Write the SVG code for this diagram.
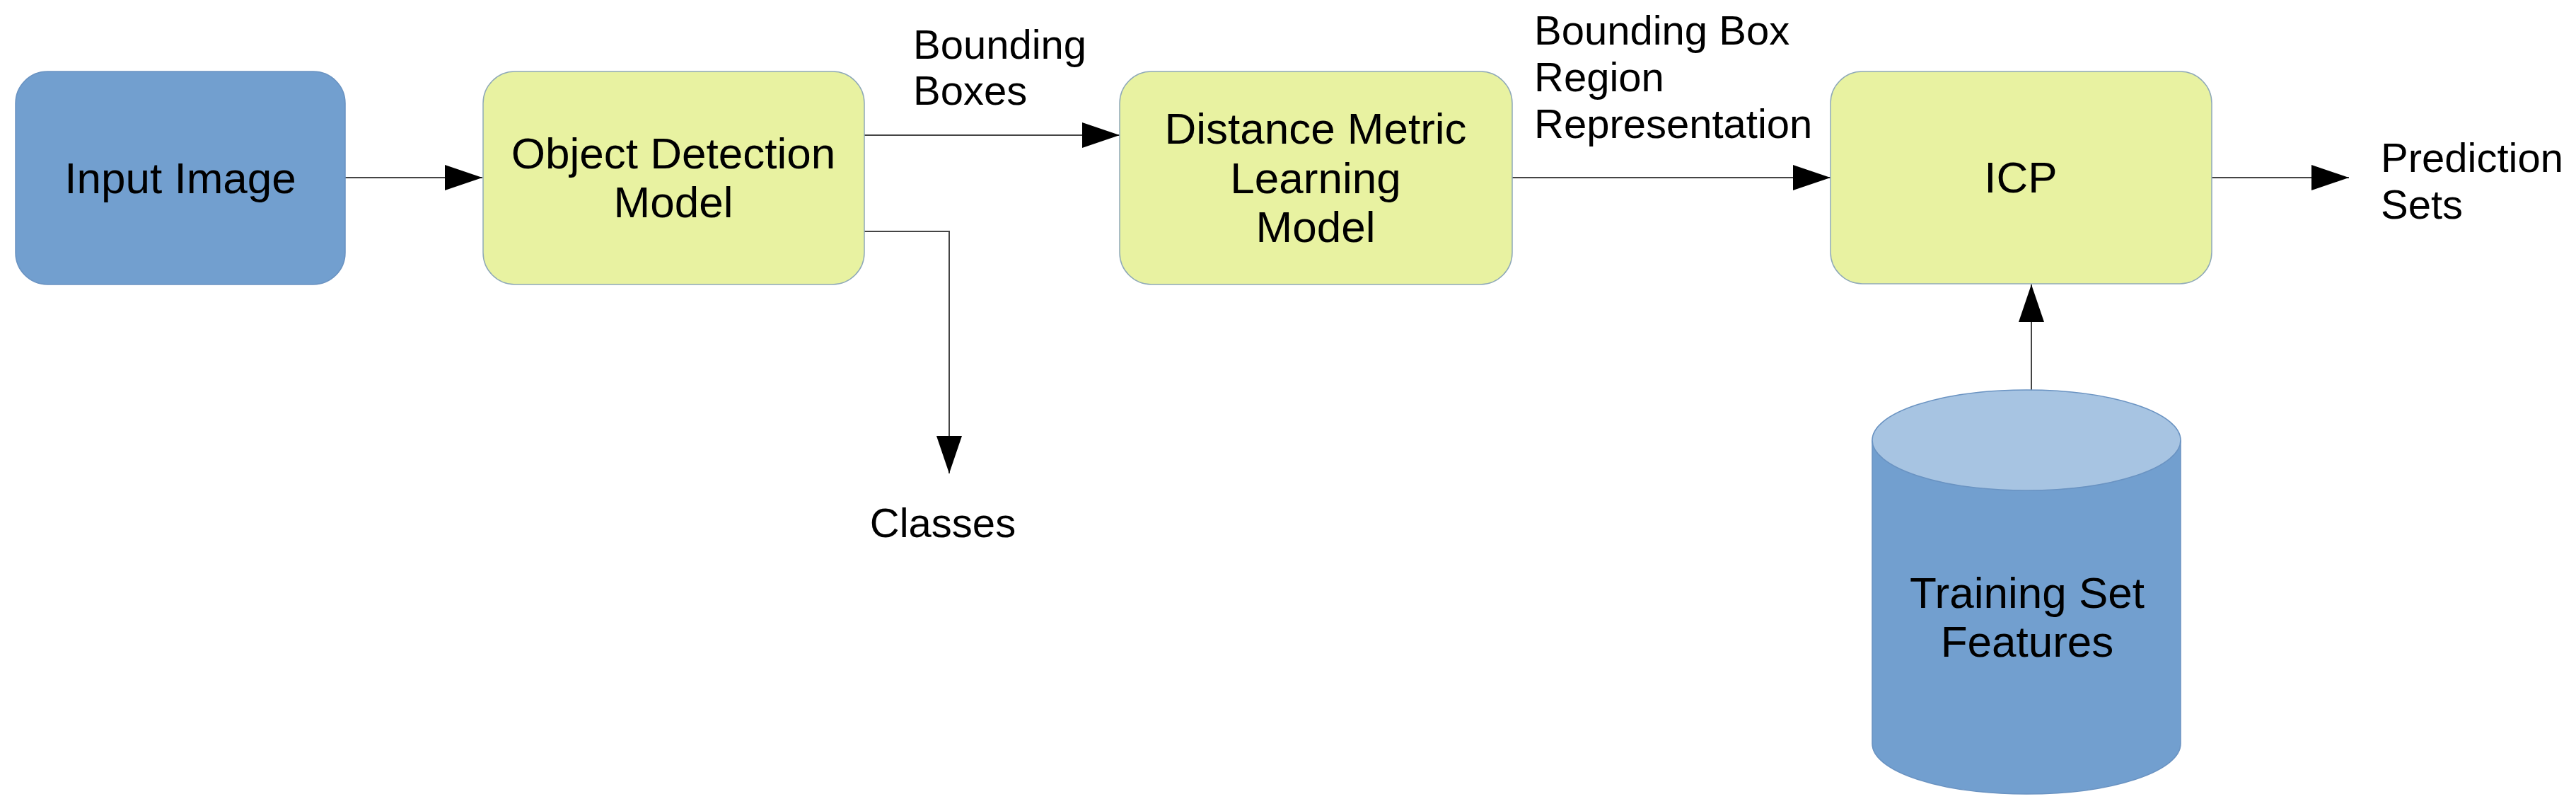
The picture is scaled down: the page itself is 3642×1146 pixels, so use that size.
<svg xmlns="http://www.w3.org/2000/svg" width="3642" height="1146" viewBox="0 0 3642 1146">
<style>
text{font-family:"Liberation Sans",Arial,sans-serif;fill:#000}
.big{font-size:62px;text-anchor:middle}
.lbl{font-size:58px}
.blue{fill:#729fcf;stroke:#6a93c2;stroke-width:1.5}
.yel{fill:#e8f2a1;stroke:#8fa9b8;stroke-width:1.5}
.con{fill:none;stroke:#444;stroke-width:2}
</style>
<defs>
<marker id="ah" markerUnits="userSpaceOnUse" markerWidth="54" markerHeight="36" refX="53" refY="18" orient="auto">
<path d="M0,0 L53,18 L0,36 z" fill="#000"/>
</marker>
</defs>
<rect width="3642" height="1146" fill="#fff"/>
<g id="connectors">
<path class="con" d="M488,251 H682" marker-end="url(#ah)"/>
<path class="con" d="M1222,191 H1583" marker-end="url(#ah)"/>
<path class="con" d="M1222,327 H1342 V669" marker-end="url(#ah)"/>
<path class="con" d="M2138,251 H2588" marker-end="url(#ah)"/>
<path class="con" d="M3127,251 H3321" marker-end="url(#ah)"/>
<path class="con" d="M2872,552 V402" marker-end="url(#ah)"/>
</g>
<g id="input-image">
<rect class="blue" x="22" y="101" width="466" height="301" rx="45" ry="45"/>
<text class="big" x="255" y="273">Input Image</text>
</g>
<g id="object-detection">
<rect class="yel" x="683" y="101" width="539" height="301" rx="45" ry="45"/>
<text class="big" x="952" y="238">Object Detection</text>
<text class="big" x="952" y="307">Model</text>
</g>
<g id="distance-metric">
<rect class="yel" x="1583" y="101" width="555" height="301" rx="45" ry="45"/>
<text class="big" x="1860" y="203">Distance Metric</text>
<text class="big" x="1860" y="273">Learning</text>
<text class="big" x="1860" y="342">Model</text>
</g>
<g id="icp">
<rect class="yel" x="2588" y="101" width="539" height="300" rx="45" ry="45"/>
<text class="big" x="2857" y="272">ICP</text>
</g>
<g id="training-set">
<path class="blue" d="M2647,622 V1051 A218,71 0 0 0 3083,1051 V622 Z"/>
<ellipse cx="2865" cy="622" rx="218" ry="71" fill="#a7c4e2" stroke="#6a93c2" stroke-width="1.5"/>
<text class="big" x="2866" y="859">Training Set</text>
<text class="big" x="2866" y="928">Features</text>
</g>
<g id="labels">
<text class="lbl" x="1291" y="83">Bounding</text>
<text class="lbl" x="1291" y="148">Boxes</text>
<text class="lbl" x="2169" y="63">Bounding Box</text>
<text class="lbl" x="2169" y="129">Region</text>
<text class="lbl" x="2169" y="195">Representation</text>
<text class="lbl" x="3366" y="243">Prediction</text>
<text class="lbl" x="3366" y="309">Sets</text>
<text class="lbl" x="1333" y="759" text-anchor="middle">Classes</text>
</g>
</svg>
